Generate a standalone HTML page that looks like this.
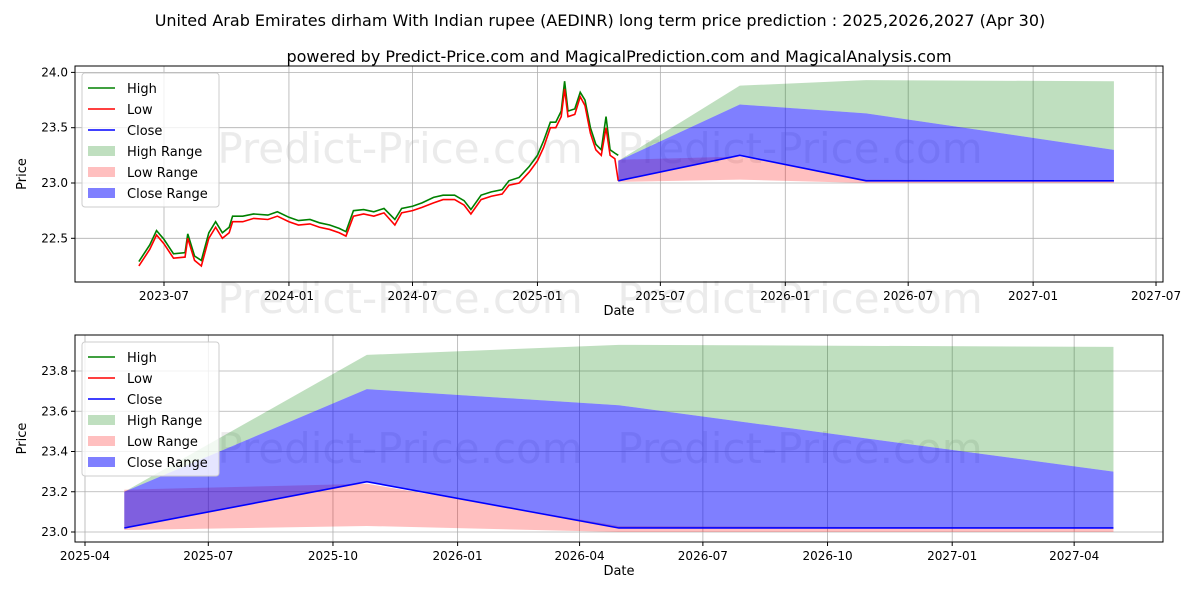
<!DOCTYPE html>
<html><head><meta charset="utf-8"><style>
body{margin:0;background:#fff;font-family:"Liberation Sans","DejaVu Sans",sans-serif}
svg text{font-family:"DejaVu Sans","Liberation Sans",sans-serif}
</style></head><body>
<svg id="c" width="1200" height="600" xmlns="http://www.w3.org/2000/svg">
<rect width="1200" height="600" fill="#fff"/>
<text x="600" y="26" text-anchor="middle" font-size="16">United Arab Emirates dirham With Indian rupee (AEDINR) long term price prediction : 2025,2026,2027 (Apr 30)</text>
<text x="619" y="62" text-anchor="middle" font-size="16">powered by Predict-Price.com and MagicalPrediction.com and MagicalAnalysis.com</text>
</svg>
<script>
const histDates=["2023-05-25","2023-06-10","2023-06-20","2023-07-01","2023-07-15","2023-08-01","2023-08-05","2023-08-15","2023-08-25","2023-09-05","2023-09-15","2023-09-25","2023-10-05","2023-10-10","2023-10-25","2023-11-10","2023-12-01","2023-12-15","2024-01-01","2024-01-15","2024-02-01","2024-02-15","2024-03-01","2024-03-15","2024-03-25","2024-04-05","2024-04-20","2024-05-05","2024-05-20","2024-06-05","2024-06-15","2024-07-01","2024-07-15","2024-08-01","2024-08-15","2024-09-01","2024-09-15","2024-09-25","2024-10-10","2024-10-25","2024-11-10","2024-11-20","2024-12-05","2024-12-20","2025-01-01","2025-01-10","2025-01-20","2025-01-28","2025-02-05","2025-02-10","2025-02-15","2025-02-25","2025-03-05","2025-03-12","2025-03-20","2025-03-28","2025-04-05","2025-04-12","2025-04-18","2025-04-25","2025-04-30"];
const lowVals=[22.25,22.4,22.53,22.45,22.32,22.33,22.5,22.3,22.25,22.5,22.6,22.5,22.55,22.65,22.65,22.68,22.67,22.7,22.65,22.62,22.63,22.6,22.58,22.55,22.52,22.7,22.72,22.7,22.73,22.62,22.73,22.75,22.78,22.82,22.85,22.85,22.8,22.72,22.85,22.88,22.9,22.98,23.0,23.1,23.2,23.32,23.5,23.5,23.6,23.85,23.6,23.62,23.78,23.7,23.45,23.3,23.25,23.5,23.25,23.22,23.02];
const highVals=[22.29,22.44,22.57,22.49,22.36,22.37,22.54,22.34,22.3,22.55,22.65,22.55,22.6,22.7,22.7,22.72,22.71,22.74,22.69,22.66,22.67,22.64,22.62,22.59,22.56,22.75,22.76,22.74,22.77,22.67,22.77,22.79,22.82,22.87,22.89,22.89,22.84,22.76,22.89,22.92,22.94,23.02,23.05,23.15,23.25,23.38,23.55,23.55,23.65,23.92,23.65,23.67,23.82,23.75,23.5,23.35,23.3,23.6,23.3,23.27,23.25];
const predDates=["2025-04-30","2025-10-26","2026-04-30","2027-04-30"];
const highUp=[23.2,23.88,23.93,23.92];
const closeUp=[23.2,23.71,23.63,23.3];
const closeVals=[23.02,23.25,23.02,23.02];
const lowUp=[23.21,23.24,23.03,23.02];
const lowLo=[23.01,23.03,23.0,23.0];
const topYTicks=[22.5,23.0,23.5,24.0];
const topXTicks=["2023-07","2024-01","2024-07","2025-01","2025-07","2026-01","2026-07","2027-01","2027-07"];
const botYTicks=[23.0,23.2,23.4,23.6,23.8];
const botXTicks=["2025-04","2025-07","2025-10","2026-01","2026-04","2026-07","2026-10","2027-01","2027-04"];

const svg=document.getElementById('c');const NS='http://www.w3.org/2000/svg';
function mk(t,a,p){const e=document.createElementNS(NS,t);for(const k in a)e.setAttribute(k,a[k]);(p||svg).appendChild(e);return e;}
const day=s=>Date.parse(s.length==7?s+"-01":s)/864e5;
function panel(o){
  const X=d=>o.x0+(day(d)-day(o.refD))*o.pxd;
  const Y=v=>o.y0-(v-o.refV)*o.pxv;
  const g=mk('g',{});
  o.wm.forEach(p=>{const w=mk('text',{x:p[0],y:p[1],'font-size':42,fill:'#ebebeb','text-anchor':'middle'},g);w.textContent='Predict-Price.com';
    });
  o.yt.forEach(v=>{mk('line',{x1:o.L,x2:o.R,y1:Y(v),y2:Y(v),stroke:'#b0b0b0','stroke-width':0.8},g);
    mk('line',{x1:o.L-4,x2:o.L,y1:Y(v),y2:Y(v),stroke:'#000'},g);
    const tx=mk('text',{x:o.L-7,y:Y(v)+4,'text-anchor':'end','font-size':12},g);tx.textContent=v.toFixed(1);
    });
  o.xt.forEach(d=>{const x=X(d);mk('line',{x1:x,x2:x,y1:o.T,y2:o.B,stroke:'#b0b0b0','stroke-width':0.8},g);
    mk('line',{x1:x,x2:x,y1:o.B,y2:o.B+4,stroke:'#000'},g);
    const tx=mk('text',{x:x,y:o.B+18,'text-anchor':'middle','font-size':12},g);tx.textContent=d;
    });
  const area=(up,lo,col,name)=>{let d='M';predDates.forEach((t,i)=>d+=X(t)+','+Y(up[i])+' L');
    for(let i=predDates.length-1;i>=0;i--)d+=X(predDates[i])+','+Y(lo[i])+(i?' L':' Z');
    const p=mk('path',{d:d,fill:col},g);};
  area(highUp,closeUp,'rgba(0,128,0,0.25)','high-range');
  area(lowUp,lowLo,'rgba(255,0,0,0.25)','low-range');
  area(closeUp,closeVals,'rgba(0,0,255,0.5)','close-range');
  const line=(ds,vs,col,name)=>{const pts=ds.map((t,i)=>X(t)+','+Y(vs[i])).join(' ');
    const p=mk('polyline',{points:pts,fill:'none',stroke:col,'stroke-width':1.6},g);};
  if(o.hist){line(histDates,highVals,'#008000','high-line');line(histDates,lowVals,'#ff0000','low-line');}
  line(predDates,closeVals,'#0000ff','close-line');
  mk('rect',{x:o.L,y:o.T,width:o.R-o.L,height:o.B-o.T,fill:'none',stroke:'#000','stroke-width':1},g);
  const yl=mk('text',{x:0,y:0,'font-size':13,'text-anchor':'middle',transform:`translate(26,${(o.T+o.B)/2}) rotate(-90)`},g);yl.textContent='Price';
  
  const xl=mk('text',{x:(o.L+o.R)/2,y:o.B+33,'font-size':13,'text-anchor':'middle'},g);xl.textContent='Date';
  
  const lg=mk('g',{},g);
  mk('rect',{x:o.L+7,y:o.T+7,width:137,height:134,fill:'#fff','fill-opacity':0.8,stroke:'#ccc',rx:3},lg);
  const items=[['High','l','#008000'],['Low','l','#ff0000'],['Close','l','#0000ff'],['High Range','p','rgba(0,128,0,0.25)'],['Low Range','p','rgba(255,0,0,0.25)'],['Close Range','p','rgba(0,0,255,0.5)']];
  items.forEach((it,i)=>{const yy=o.T+22+i*21;
    if(it[1]=='l')mk('line',{x1:o.L+13,x2:o.L+40,y1:yy,y2:yy,stroke:it[2],'stroke-width':1.6},lg);
    else mk('rect',{x:o.L+13,y:yy-5,width:27,height:10,fill:it[2]},lg);
    const t=mk('text',{x:o.L+52,y:yy+5,'font-size':13},lg);t.textContent=it[0];
    });
}
panel({name:'top-panel',L:75,R:1163,T:66,B:282,x0:164,refD:'2023-07-01',pxd:0.679,y0:183,refV:23.0,pxv:110.6,
  yt:topYTicks,xt:topXTicks,hist:true,wm:[[400,163],[800,163],[400,313],[800,313]]});
panel({name:'bottom-panel',L:75,R:1163,T:335,B:542,x0:85,refD:'2025-04-01',pxd:1.355,y0:532,refV:23.0,pxv:201.25,
  yt:botYTicks,xt:botXTicks,hist:false,wm:[[400,463],[800,463]]});
</script>
</body></html>
